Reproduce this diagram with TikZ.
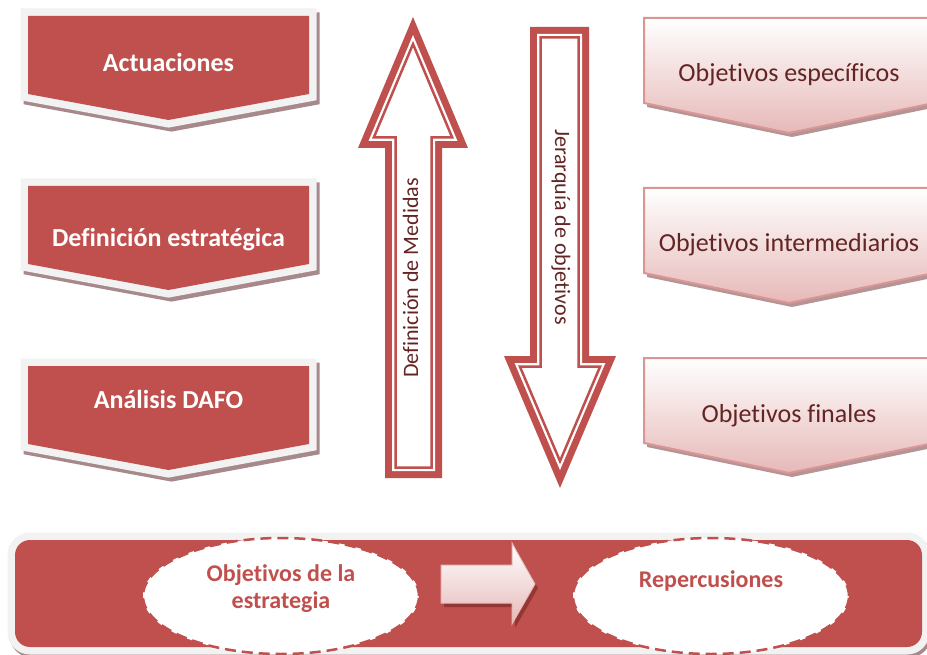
\documentclass[tikz,border=0pt]{standalone}
\usepackage{fontspec}
\setmainfont{Carlito}[Ligatures={NoCommon}]
\usetikzlibrary{shapes.geometric}
\definecolor{redc}{HTML}{C0504D}
\definecolor{graybd}{HTML}{F2F2F2}
\definecolor{shadl}{HTML}{A8898B}
\definecolor{shadr}{HTML}{B59495}
\definecolor{pinkbd}{HTML}{D99694}
\definecolor{pinkfill}{HTML}{E6B9B8}
\definecolor{darkred}{HTML}{632523}
\definecolor{arrshad}{HTML}{943634}
\newcommand{\upArrowPath}[1]{(413,{17+2.58*#1}) -- ({413+(131-3.58*#1)*0.4198},{148-#1}) -- ({442-#1},{148-#1}) -- ({442-#1},{478-#1}) -- ({385+#1},{478-#1}) -- ({385+#1},{148-#1}) -- ({413-(131-3.58*#1)*0.4198},{148-#1}) -- cycle}
\newcommand{\downArrowPath}[1]{(560,{488-2.56*#1}) -- ({560+(132-3.56*#1)*0.4242},{356+#1}) -- ({589-#1},{356+#1}) -- ({589-#1},{27+#1}) -- ({530+#1},{27+#1}) -- ({530+#1},{356+#1}) -- ({560-(132-3.56*#1)*0.4242},{356+#1}) -- cycle}
\newcommand{\leftChev}[1]{(28,#1) -- (309,#1) -- (309,{#1+78}) -- (168.5,{#1+104}) -- (28,{#1+78}) -- cycle}
\newcommand{\rightChev}[1]{(644,#1) -- (934,#1) -- (934,{#1+85}) -- (789,{#1+115}) -- (644,{#1+85}) -- cycle}
\begin{document}
\begin{tikzpicture}[x=1pt,y=-1pt,
  chevtext/.style={font=\bfseries\fontsize{26}{31}\selectfont, text=white, inner sep=0pt, anchor=base},
  objtext/.style={font=\fontsize{26}{31}\selectfont, text=darkred, inner sep=0pt, anchor=base},
  vtext/.style={font=\fontsize{22}{26}\selectfont, text=darkred, inner sep=0pt, anchor=base},
  bottext/.style={font=\bfseries\fontsize{24}{27}\selectfont, text=redc, inner sep=0pt, align=center},
  dashell/.style={ellipse, draw=redc, fill=white, line width=2.5pt, dash pattern=on 11pt off 6pt, minimum width=276pt, minimum height=116pt, inner sep=0pt},
  lshadow/.style={fill=shadl, draw=shadl, line width=15pt, line join=miter},
  lborder/.style={fill=graybd, draw=graybd, line width=15pt, line join=miter},
  rchevstyle/.style={top color=white, bottom color=pinkfill, draw=pinkbd, line width=2pt}
]
\path[use as bounding box, clip] (0,0) rectangle (927,655);
\fill[white] (0,0) rectangle (927,655);

% left chevrons
\foreach \t in {16,186,366}{
  \path[lshadow, shift={(3,4)}] \leftChev{\t};
  \path[lborder] \leftChev{\t};
  \fill[redc] \leftChev{\t};
}
\node[chevtext] (act) at (168.5,72) {Actuaciones};
\node[chevtext] (def) at (168.5,247) {Definición estratégica};
\node[chevtext] (dafo) at (168.5,408) {Análisis DAFO};

% right chevrons
\foreach \t in {18,188,358}{
  \fill[shadr, shift={(3,4)}] \rightChev{\t};
  \shade[rchevstyle] \rightChev{\t};
}
\node[objtext] (oesp) at (789,82) {Objetivos específicos};
\node[objtext] (oint) at (789,252) {Objetivos intermediarios};
\node[objtext] (ofin) at (789,422) {Objetivos finales};

% up arrow
\fill[redc] \upArrowPath{0};
\fill[white] \upArrowPath{7};
\draw[redc, line width=2.5pt, line join=miter] \upArrowPath{10.5};
\node[vtext, rotate=90] (med) at (418,278) {Definición de Medidas};

% down arrow
\fill[redc] \downArrowPath{0};
\fill[white] \downArrowPath{7};
\draw[redc, line width=2.5pt, line join=miter] \downArrowPath{10.5};
\node[vtext, rotate=-90] (jer) at (555,227) {Jerarquía de objetivos};

% bottom panel
\path[lshadow, rounded corners=15pt, shift={(2,3)}] (15,540) rectangle (922,647);
\path[lborder, rounded corners=15pt] (15,540) rectangle (922,647);
\fill[redc, rounded corners=15pt] (15,540) rectangle (922,647);

\node[dashell] (e1) at (281,596) {};
\node[dashell] (e2) at (711,596) {};
\node[bottext] (e1t) at (281,589) {Objetivos de la\\estrategia};
\node[bottext, anchor=base] (e2t) at (711,587) {Repercusiones};

% block arrow between ellipses
\fill[arrshad, shift={(3,4)}] (441,565) -- (512,565) -- (512,543) -- (535,584) -- (512,624) -- (512,603) -- (441,603) -- cycle;
\shade[top color=white, bottom color=pinkfill, draw=pinkfill, line width=1pt] (441,565) -- (512,565) -- (512,543) -- (535,584) -- (512,624) -- (512,603) -- (441,603) -- cycle;
\end{tikzpicture}
\end{document}
